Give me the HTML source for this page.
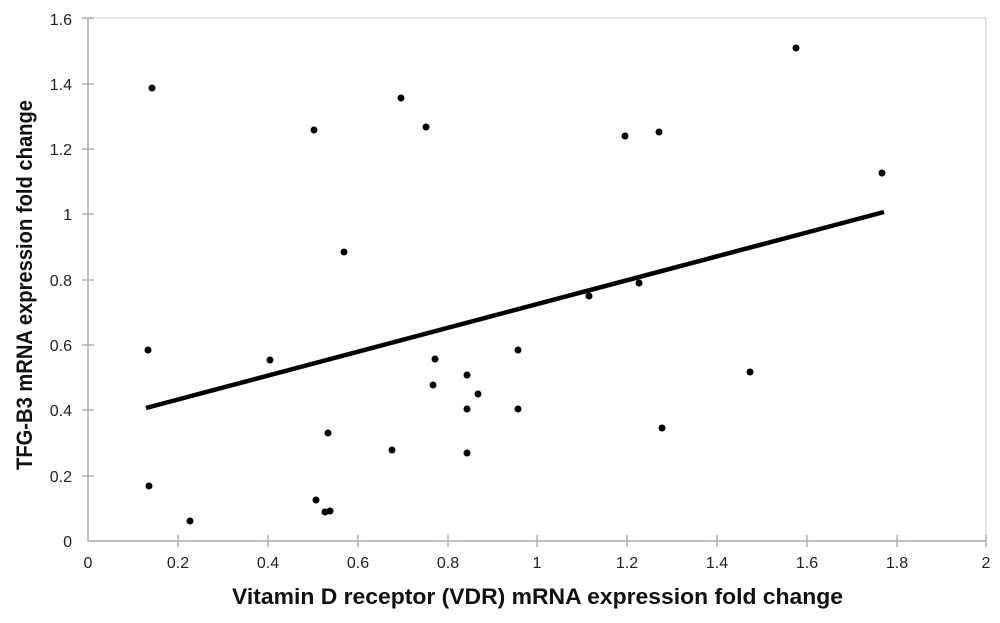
<!DOCTYPE html>
<html><head><meta charset="utf-8"><style>body{margin:0;background:#fff}</style></head><body>
<svg width="1000" height="618" xmlns="http://www.w3.org/2000/svg" font-family="Liberation Sans, sans-serif">
<rect x="88" y="18" width="898" height="523" fill="none" stroke="#d6dfde" stroke-width="1.5"/>
<g stroke="#a9b4b3" stroke-width="1.5">
<line x1="88" y1="18" x2="88" y2="541"/><line x1="88" y1="541" x2="986" y2="541"/>
<line x1="82" y1="18" x2="94" y2="18"/><line x1="82" y1="84" x2="94" y2="84"/><line x1="82" y1="149" x2="94" y2="149"/><line x1="82" y1="214" x2="94" y2="214"/><line x1="82" y1="280" x2="94" y2="280"/><line x1="82" y1="345" x2="94" y2="345"/><line x1="82" y1="410" x2="94" y2="410"/><line x1="82" y1="476" x2="94" y2="476"/>
<line x1="178" y1="535" x2="178" y2="547"/><line x1="268" y1="535" x2="268" y2="547"/><line x1="358" y1="535" x2="358" y2="547"/><line x1="448" y1="535" x2="448" y2="547"/><line x1="537" y1="535" x2="537" y2="547"/><line x1="627" y1="535" x2="627" y2="547"/><line x1="717" y1="535" x2="717" y2="547"/><line x1="807" y1="535" x2="807" y2="547"/><line x1="897" y1="535" x2="897" y2="547"/><line x1="986" y1="535" x2="986" y2="547"/>
</g>
<g font-size="16" fill="#222" text-anchor="end">
<text x="72" y="25">1.6</text><text x="72" y="90">1.4</text><text x="72" y="155">1.2</text><text x="72" y="220">1</text><text x="72" y="286">0.8</text><text x="72" y="351">0.6</text><text x="72" y="416">0.4</text><text x="72" y="482">0.2</text><text x="72" y="547">0</text>
</g>
<g font-size="16" fill="#222" text-anchor="middle">
<text x="88" y="568">0</text><text x="178" y="568">0.2</text><text x="268" y="568">0.4</text><text x="358" y="568">0.6</text><text x="448" y="568">0.8</text><text x="537" y="568">1</text><text x="627" y="568">1.2</text><text x="717" y="568">1.4</text><text x="807" y="568">1.6</text><text x="897" y="568">1.8</text><text x="986" y="568">2</text>
</g>
<text x="232" y="604" font-size="22" font-weight="bold" fill="#111" textLength="611" lengthAdjust="spacingAndGlyphs">Vitamin D receptor (VDR) mRNA expression fold change</text>
<text transform="translate(32,470) rotate(-90)" font-size="22" font-weight="bold" fill="#111" textLength="370" lengthAdjust="spacingAndGlyphs">TFG-B3 mRNA expression fold change</text>
<line x1="146" y1="408" x2="884" y2="212" stroke="#000" stroke-width="4.5"/>
<g fill="#000">
<circle cx="152" cy="88" r="3.5"/><circle cx="148" cy="350" r="3.5"/><circle cx="149" cy="486" r="3.5"/><circle cx="190" cy="521" r="3.5"/><circle cx="314" cy="130" r="3.5"/><circle cx="316" cy="500" r="3.5"/><circle cx="325" cy="512" r="3.5"/><circle cx="330" cy="511" r="3.5"/><circle cx="328" cy="433" r="3.5"/><circle cx="344" cy="252" r="3.5"/><circle cx="270" cy="360" r="3.5"/><circle cx="392" cy="450" r="3.5"/><circle cx="401" cy="98" r="3.5"/><circle cx="426" cy="127" r="3.5"/><circle cx="435" cy="359" r="3.5"/><circle cx="433" cy="385" r="3.5"/><circle cx="467" cy="375" r="3.5"/><circle cx="467" cy="409" r="3.5"/><circle cx="467" cy="453" r="3.5"/><circle cx="478" cy="394" r="3.5"/><circle cx="518" cy="350" r="3.5"/><circle cx="518" cy="409" r="3.5"/><circle cx="589" cy="296" r="3.5"/><circle cx="625" cy="136" r="3.5"/><circle cx="659" cy="132" r="3.5"/><circle cx="639" cy="283" r="3.5"/><circle cx="662" cy="428" r="3.5"/><circle cx="750" cy="372" r="3.5"/><circle cx="796" cy="48" r="3.5"/><circle cx="882" cy="173" r="3.5"/>
</g>
</svg>
</body></html>
